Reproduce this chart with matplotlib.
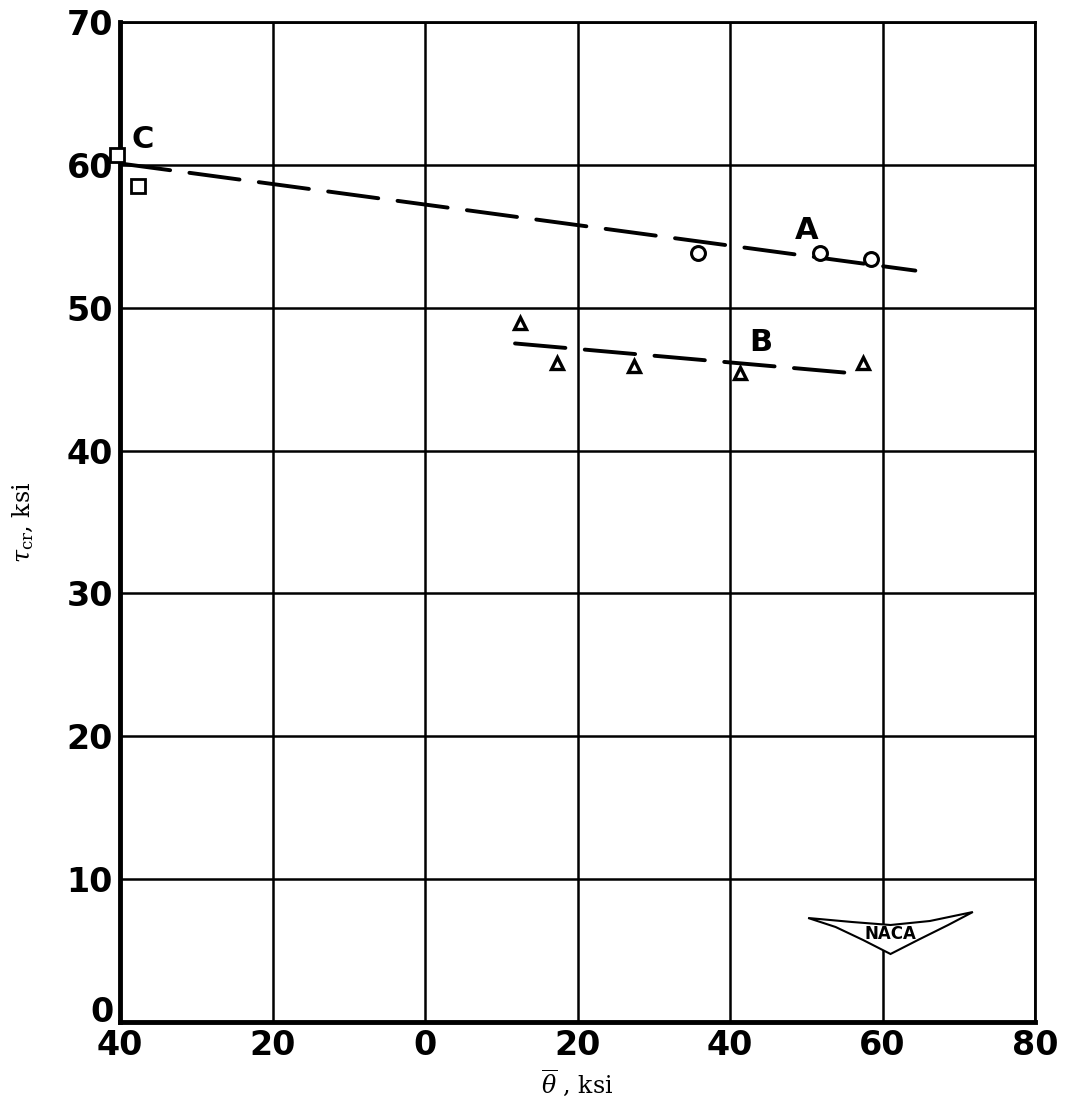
import matplotlib
matplotlib.use("Agg")
import matplotlib.pyplot as plt
from matplotlib.patches import Polygon

plt.rcParams['mathtext.fontset'] = 'dejavuserif'

# test points
circle_x = [35.8, 51.8, 58.5]
circle_y = [53.8, 53.8, 53.4]
tri_x = [12.5, 17.3, 27.4, 41.3, 57.4]
tri_y = [48.9, 46.1, 45.9, 45.4, 46.1]
square_x = [-40.4, -37.6]
square_y = [60.7, 58.5]

# faired curves
line_a_x = [-40, 64.3]
line_a_y = [60.1, 52.6]
line_b_x = [11.8, 55.3]
line_b_y = [47.5, 45.45]

x_ticks = [-40, -20, 0, 20, 40, 60, 80]
x_tick_labels = ['40', '20', '0', '20', '40', '60', '80']
y_ticks = [0, 10, 20, 30, 40, 50, 60, 70]
y_tick_labels = ['', '10', '20', '30', '40', '50', '60', '70']

fig = plt.figure(figsize=(10.66, 11.02), dpi=100)
ax = fig.add_axes([0.1126, 0.0726, 0.8584, 0.9074])

dash = (0, (13, 5))
ax.plot(line_a_x, line_a_y, color='black', lw=2.8, linestyle=dash,
        dash_capstyle='round', zorder=3)
ax.plot(line_b_x, line_b_y, color='black', lw=2.8, linestyle=dash,
        dash_capstyle='round', zorder=3)

ax.plot(circle_x, circle_y, 'o', ms=10, mfc='white', mec='black', mew=2.2, zorder=4)
ax.plot(tri_x, tri_y, '^', ms=9, mfc='white', mec='black', mew=2.4, zorder=4)
ax.plot(square_x, square_y, 's', ms=10, mfc='white', mec='black', mew=2,
        zorder=4, clip_on=False)

lbl = dict(fontsize=22, fontweight='bold', color='black', family='DejaVu Sans')
ax.text(50.0, 55.4, 'A', ha='center', va='center', **lbl)
ax.text(44.0, 47.6, 'B', ha='center', va='center', **lbl)
ax.text(-37.0, 61.8, 'C', ha='center', va='center', **lbl)

ax.set_xlim(-40, 80)
ax.set_ylim(0, 70)
ax.set_xticks(x_ticks)
ax.set_xticklabels(x_tick_labels)
ax.set_yticks(y_ticks)
ax.set_yticklabels(y_tick_labels)
ax.tick_params(axis='both', length=0, labelsize=24, pad=5)
for t in ax.get_xticklabels() + ax.get_yticklabels():
    t.set_fontweight('bold')
ax.text(-0.007, 0.009, '0', transform=ax.transAxes, ha='right', va='center',
        fontsize=24, fontweight='bold')

ax.grid(True, color='black', lw=1.8)
ax.set_axisbelow(True)
for side in ['left', 'bottom']:
    ax.spines[side].set_linewidth(3.5)
for side in ['top', 'right']:
    ax.spines[side].set_linewidth(2)

ax.set_xlabel(r'$\overline{\theta}$ , ksi', fontsize=17, family='DejaVu Serif', labelpad=4)
ax.set_ylabel(r'$\tau_{\rm cr}$, ksi', fontsize=17, family='DejaVu Serif', labelpad=22)

# NACA wing emblem
wing = [(0.752, 0.104), (0.80, 0.100), (0.842, 0.097), (0.885, 0.101),
        (0.932, 0.110), (0.905, 0.097), (0.872, 0.082), (0.842, 0.068),
        (0.812, 0.082), (0.782, 0.095)]
ax.add_patch(Polygon(wing, closed=True, transform=ax.transAxes, fc='white',
                     ec='black', lw=1.5, zorder=5))
ax.text(0.842, 0.088, 'NACA', transform=ax.transAxes, ha='center', va='center',
        fontsize=12, fontweight='bold', zorder=6)

fig.savefig('out.png', dpi=100)
